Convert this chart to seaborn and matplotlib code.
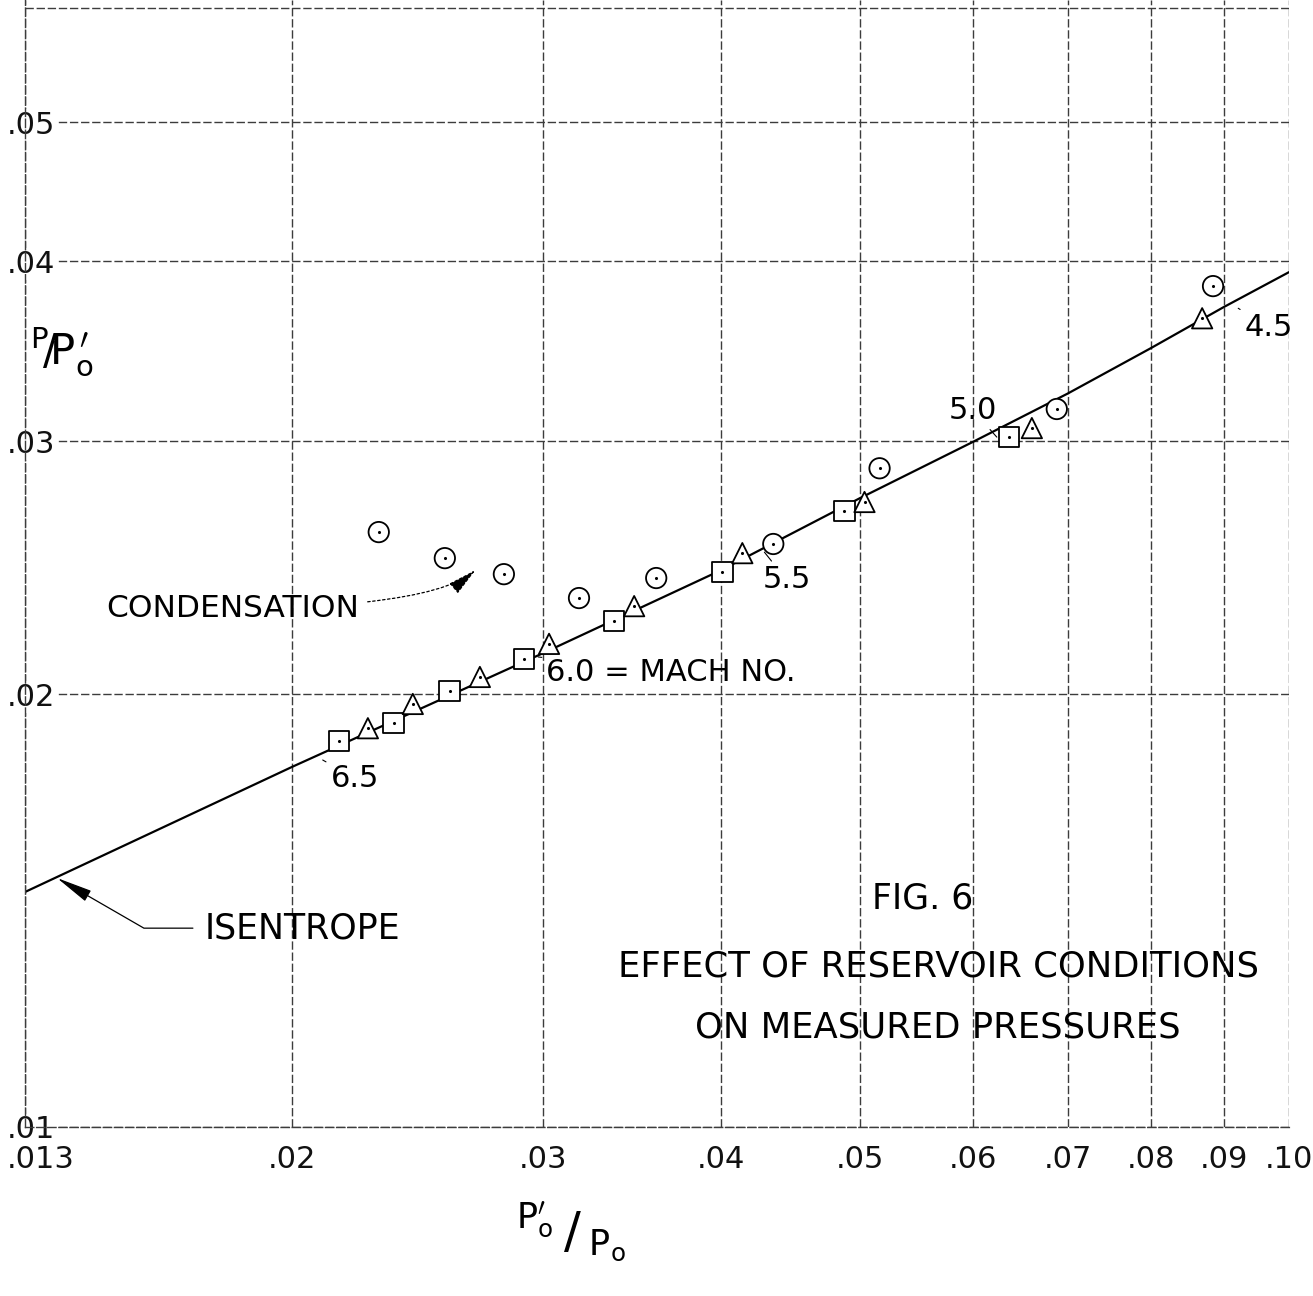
import matplotlib
matplotlib.use("Agg")
import matplotlib.pyplot as plt
import seaborn as sns
import pandas as pd
from matplotlib.ticker import FixedLocator, FixedFormatter, NullLocator
from matplotlib.transforms import ScaledTranslation

# isentrope
isen_x = [0.013, 0.02, 0.03, 0.04, 0.05, 0.06, 0.07, 0.08, 0.09, 0.10]
isen_y = [0.01457, 0.01780, 0.02136, 0.02440, 0.02737, 0.02995, 0.03238, 0.03481, 0.03718, 0.03932]

# measured points (circle = dotted circle, square = dotted square, triangle)
circ_x = [0.02301, 0.02560, 0.02816, 0.03179, 0.03601, 0.04350, 0.05164, 0.06874, 0.08846]
circ_y = [0.02593, 0.02487, 0.02424, 0.02333, 0.02409, 0.02544, 0.02872, 0.03158, 0.03845]

sq_x = [0.02157, 0.02357, 0.02580, 0.02908, 0.03365, 0.04007, 0.04879, 0.06362]
sq_y = [0.01855, 0.01910, 0.02010, 0.02116, 0.02248, 0.02432, 0.02682, 0.03019]

tri_x = [0.02261, 0.02431, 0.02709, 0.03029, 0.03475, 0.04138, 0.05040, 0.06603, 0.08692]
tri_y = [0.01894, 0.01969, 0.02056, 0.02168, 0.02303, 0.02507, 0.02721, 0.03063, 0.03652]

# Mach number marks on the isentrope
mach_labels = ['6.5', '6.0 = MACH NO.', '5.5', '5.0', '4.5']
mach_x = [0.02102, 0.02976, 0.04288, 0.06240, 0.09213]
mach_y = [0.01800, 0.02123, 0.02511, 0.03019, 0.03711]

x_ticks = [0.013, 0.02, 0.03, 0.04, 0.05, 0.06, 0.07, 0.08, 0.09, 0.10]
x_ticklabels = ['.013', '.02', '.03', '.04', '.05', '.06', '.07', '.08', '.09', '.10']
y_ticks = [0.01, 0.02, 0.03, 0.04, 0.05, 0.06]
y_ticklabels = ['.01', '.02', '.03', '.04', '.05', '']

df = pd.DataFrame({
    'x': circ_x + sq_x + tri_x,
    'y': circ_y + sq_y + tri_y,
    'kind': ['circle'] * len(circ_x) + ['square'] * len(sq_x) + ['triangle'] * len(tri_x),
})

sns.set_style("white")
plt.rcParams['font.family'] = ['DejaVu Sans']
plt.rcParams['text.color'] = 'black'

fig = plt.figure(figsize=(13.13, 12.96), dpi=100)
ax = fig.add_axes([25 / 1313, 1 - 1127 / 1296, (1289 - 25) / 1313, 1127 / 1296])
ax.set_xscale('log')
ax.set_yscale('log')

sns.lineplot(x=isen_x, y=isen_y, color='black', linewidth=1.6, ax=ax, zorder=2)

sns.scatterplot(data=df, x='x', y='y', style='kind',
                markers={'circle': 'o', 'square': 's', 'triangle': '^'},
                s=215, facecolor='white', edgecolor='black', linewidth=1.3,
                legend=False, ax=ax, zorder=3)
# centre dots
sns.scatterplot(data=df, x='x', y='y', marker='o', s=5, color='black',
                linewidth=0, legend=False, ax=ax, zorder=4)

ax.set_xlim(0.013, 0.10)
ax.set_ylim(0.01, 0.0608)

ax.xaxis.set_major_locator(FixedLocator(x_ticks))
ax.xaxis.set_major_formatter(FixedFormatter(x_ticklabels))
ax.xaxis.set_minor_locator(NullLocator())
ax.yaxis.set_major_locator(FixedLocator(y_ticks))
ax.yaxis.set_major_formatter(FixedFormatter(y_ticklabels))
ax.yaxis.set_minor_locator(NullLocator())

ax.grid(True, which='major', color='#3c3c3c', linestyle=(0, (6, 2)), linewidth=1.0)
ax.set_axisbelow(True)
for side in ['top', 'right']:
    ax.spines[side].set_visible(False)
for side in ['left', 'bottom']:
    ax.spines[side].set_color('#3c3c3c')
    ax.spines[side].set_linewidth(1.0)
    ax.spines[side].set_linestyle((0, (6, 2)))

ax.tick_params(axis='x', length=0, pad=13, labelsize=22, colors='#111111')
ax.tick_params(axis='y', length=0, pad=-22, labelsize=22, colors='#111111')
for lab in ax.get_yticklabels():
    lab.set_bbox(dict(facecolor='white', edgecolor='none', pad=1))
# first x label sits a little to the right of its gridline, as in the drawing
xl = ax.get_xticklabels()
xl[0].set_transform(xl[0].get_transform() + ScaledTranslation(0.16, 0, fig.dpi_scale_trans))
ax.set_xlabel('')
ax.set_ylabel('')

# axis titles written like the original lettering
fig.text(62 / 1313, 1 - 352 / 1296, r'${}^{\mathrm{P}}\!/\!\mathrm{P_o^{\,\prime}}$',
         fontsize=30, ha='center', va='center')
fig.text(0.435, 0.05, r'${}^{\mathrm{P_o^{\prime}}}\,/\,{}_{\mathrm{P_o}}$',
         fontsize=36, ha='center', va='center')

# annotations
ax.annotate('CONDENSATION', xy=(0.0269, 0.0244), xytext=(0.01817, 0.02296),
            ha='center', va='center', fontsize=22.5,
            arrowprops=dict(arrowstyle='-|>,head_length=0.8,head_width=0.18',
                            color='black', lw=0.9, linestyle=(0, (2, 2)),
                            connectionstyle='angle3,angleA=0,angleB=40',
                            shrinkA=4, shrinkB=0))
ax.annotate('ISENTROPE', xy=(0.01369, 0.01490), xytext=(0.02034, 0.01375),
            ha='center', va='center', fontsize=25,
            arrowprops=dict(arrowstyle='-|>,head_length=0.9,head_width=0.15',
                            color='black', lw=0.9,
                            connectionstyle='angle,angleA=0,angleB=-30,rad=0',
                            shrinkA=6, shrinkB=0))

offsets = [(23, -13), (6, -11), (16, -20), (-17, 19), (22, -14)]
aligns = ['center', 'left', 'center', 'center', 'center']
for lab, mx, my, off, ha in zip(mach_labels, mach_x, mach_y, offsets, aligns):
    ax.annotate(lab, xy=(mx, my), xytext=off, textcoords='offset points',
                ha=ha, va='center', fontsize=22,
                arrowprops=dict(arrowstyle='-', color='black', lw=0.8,
                                shrinkA=1, shrinkB=0))

fig.text(0.703, 0.307, 'FIG. 6', fontsize=25, ha='center', va='center')
fig.text(0.715, 0.2546, 'EFFECT OF RESERVOIR CONDITIONS', fontsize=25.5, ha='center', va='center')
fig.text(0.714, 0.2068, 'ON MEASURED PRESSURES', fontsize=25.5, ha='center', va='center')

fig.savefig('out.png', dpi=100, facecolor='white')
